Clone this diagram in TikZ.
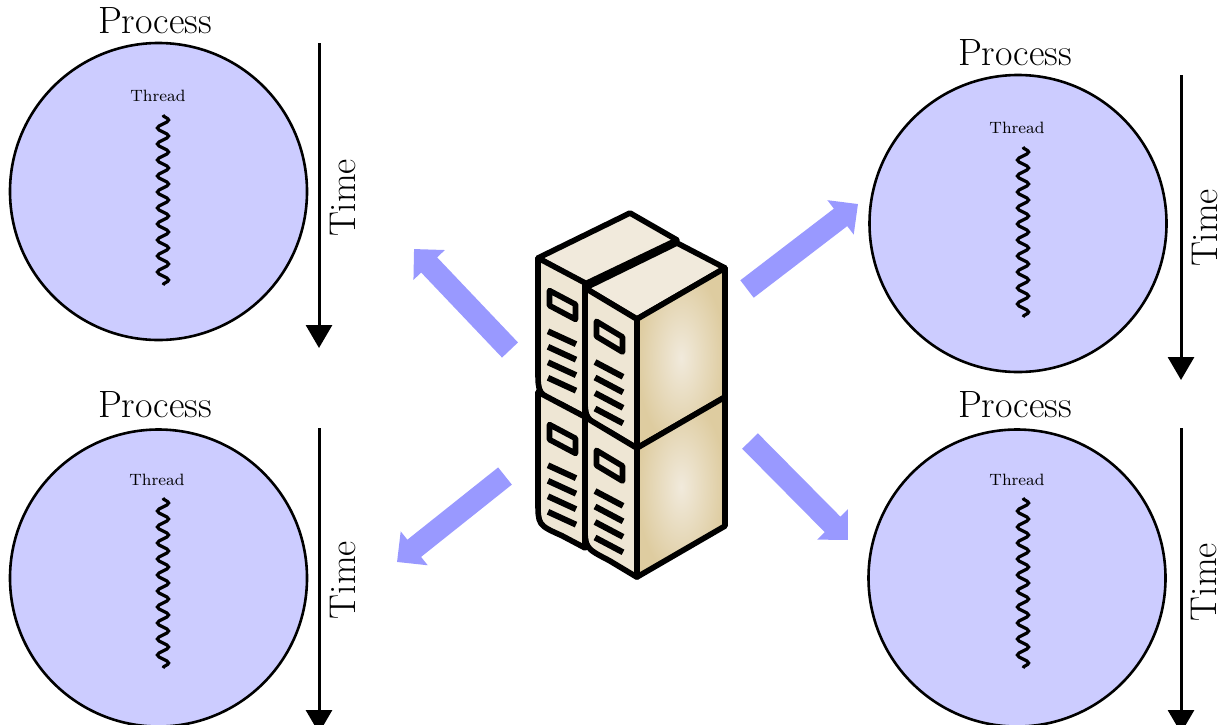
\documentclass[tikz,border=0pt]{standalone}
\usetikzlibrary{arrows.meta,decorations.pathmorphing}
\definecolor{procfill}{RGB}{204,204,255}
\definecolor{flowblue}{RGB}{153,153,255}
\definecolor{srvcream}{RGB}{238,230,212}
\definecolor{srvlight}{RGB}{241,234,220}
\definecolor{srvtan}{RGB}{222,204,160}

% one server module: front face with rounded lower-left corner, window and vents
% #1,#2 top-left corner, #3 face width, #4 height, #5 slope of the face
\newcommand\srvmod[5]{%
  \filldraw[srvline, fill=srvcream] (#1,#2) -- ++(#3,{#3*#5}) -- ++(0,#4)
    -- ({#1+24},{#2+#4+24*#5}) .. controls (#1,{#2+#4+2}) .. (#1,{#2+#4-22}) -- cycle;
  \filldraw[srvline, fill=srvcream] ({#1+11.5},{#2+11.5*#5+26.5}) -- ++(26,{26*#5})
    -- ++(0,15) -- ++(-26,{-26*#5}) -- cycle;
  \foreach \k in {0,...,3}
    \draw[srvvent] ({#1+10},{#2+10*#5+68+15.5*\k}) -- ++(28,{28*#5-2});
}

\begin{document}
\begin{tikzpicture}[x=0.5pt,y=-0.5pt,
  proc/.style={circle, draw=black, line width=1.3pt, fill=procfill,
    minimum size=148.5pt, inner sep=0pt},
  proclabel/.style={anchor=base, font=\fontsize{19}{22}\selectfont, inner sep=0pt},
  threadlabel/.style={anchor=base, font=\fontsize{8.2}{10}\selectfont, inner sep=0pt},
  timelabel/.style={rotate=90, font=\fontsize{18.6}{22}\selectfont, inner sep=0pt},
  timeline/.style={line width=1.5pt, -{Triangle[width=13pt,length=11.5pt]}},
  threadwave/.style={line width=1.6pt, decorate,
    decoration={snake, segment length=8pt, amplitude=2.8pt}},
  flow/.style={draw=flowblue, line width=11pt, -{Triangle[width=21pt,length=11pt]}},
  srvline/.style={line width=2.8pt, line join=round},
  srvvent/.style={line width=3pt},
]
\useasboundingbox (0,0) rectangle (1224,724);

% processes
\node[proc] (p1) at (158.5,191.5) {};
\node[proc] (p2) at (1018,223.5) {};
\node[proc] (p3) at (158.5,578) {};
\node[proc] (p4) at (1017,578) {};

\node[proclabel] (l1) at (155,33) {Process};
\node[proclabel] (l2) at (1015,65) {Process};
\node[proclabel] (l3) at (155,417) {Process};
\node[proclabel] (l4) at (1015,417) {Process};

% threads
\node[threadlabel] (t1) at (158,101) {Thread};
\node[threadlabel] (t2) at (1017,133) {Thread};
\node[threadlabel] (t3) at (157,485) {Thread};
\node[threadlabel] (t4) at (1017,485) {Thread};

\coordinate (w1a) at (163,115);  \coordinate (w1b) at (163,285);
\coordinate (w2a) at (1023,147); \coordinate (w2b) at (1023,317);
\coordinate (w3a) at (163,498);  \coordinate (w3b) at (163,668);
\coordinate (w4a) at (1023,498); \coordinate (w4b) at (1023,668);
\foreach \i in {1,...,4} \draw[threadwave] (w\i a) -- (w\i b);

% time axes
\coordinate (a1s) at (319,43);   \coordinate (a1e) at (319,348);
\coordinate (a2s) at (1181,75);  \coordinate (a2e) at (1181,380);
\coordinate (a3s) at (319,428);  \coordinate (a3e) at (319,733);
\coordinate (a4s) at (1181,428); \coordinate (a4e) at (1181,733);
\foreach \i in {1,...,4} \draw[timeline] (a\i s) -- (a\i e);

\node[timelabel] (m1) at (343,198) {Time};
\node[timelabel] (m2) at (1205,228) {Time};
\node[timelabel] (m3) at (343,580) {Time};
\node[timelabel] (m4) at (1204,582) {Time};

% server
\coordinate (server) at (631,395);
% left unit
\filldraw[srvline, fill=srvlight] (538,258) -- (630,213) -- (677,240) -- (585,284) -- cycle;
\srvmod{538}{258}{47}{134}{0.53}
\srvmod{538}{392}{47}{131}{0.53}
% right unit
\filldraw[srvline, fill=srvlight] (585,288) -- (677,243) -- (725,268) -- (637,319) -- cycle;
\shadedraw[srvline, inner color=srvlight, outer color=srvtan]
  (637,319) -- (725,268) -- (725,397) -- (637,448) -- cycle;
\shadedraw[srvline, inner color=srvlight, outer color=srvtan]
  (637,448) -- (725,397) -- (725,526) -- (637,577) -- cycle;
\srvmod{585}{288}{52}{129}{0.6}
\srvmod{585}{417}{52}{129}{0.6}

% dispatch arrows
\coordinate (f1s) at (510,350); \coordinate (f1e) at (414,249);
\coordinate (f2s) at (505,476); \coordinate (f2e) at (397,562);
\coordinate (f3s) at (747,289); \coordinate (f3e) at (858,204);
\coordinate (f4s) at (750,441); \coordinate (f4e) at (848,540);
\foreach \i in {1,...,4} \draw[flow] (f\i s) -- (f\i e);
\end{tikzpicture}
\end{document}
